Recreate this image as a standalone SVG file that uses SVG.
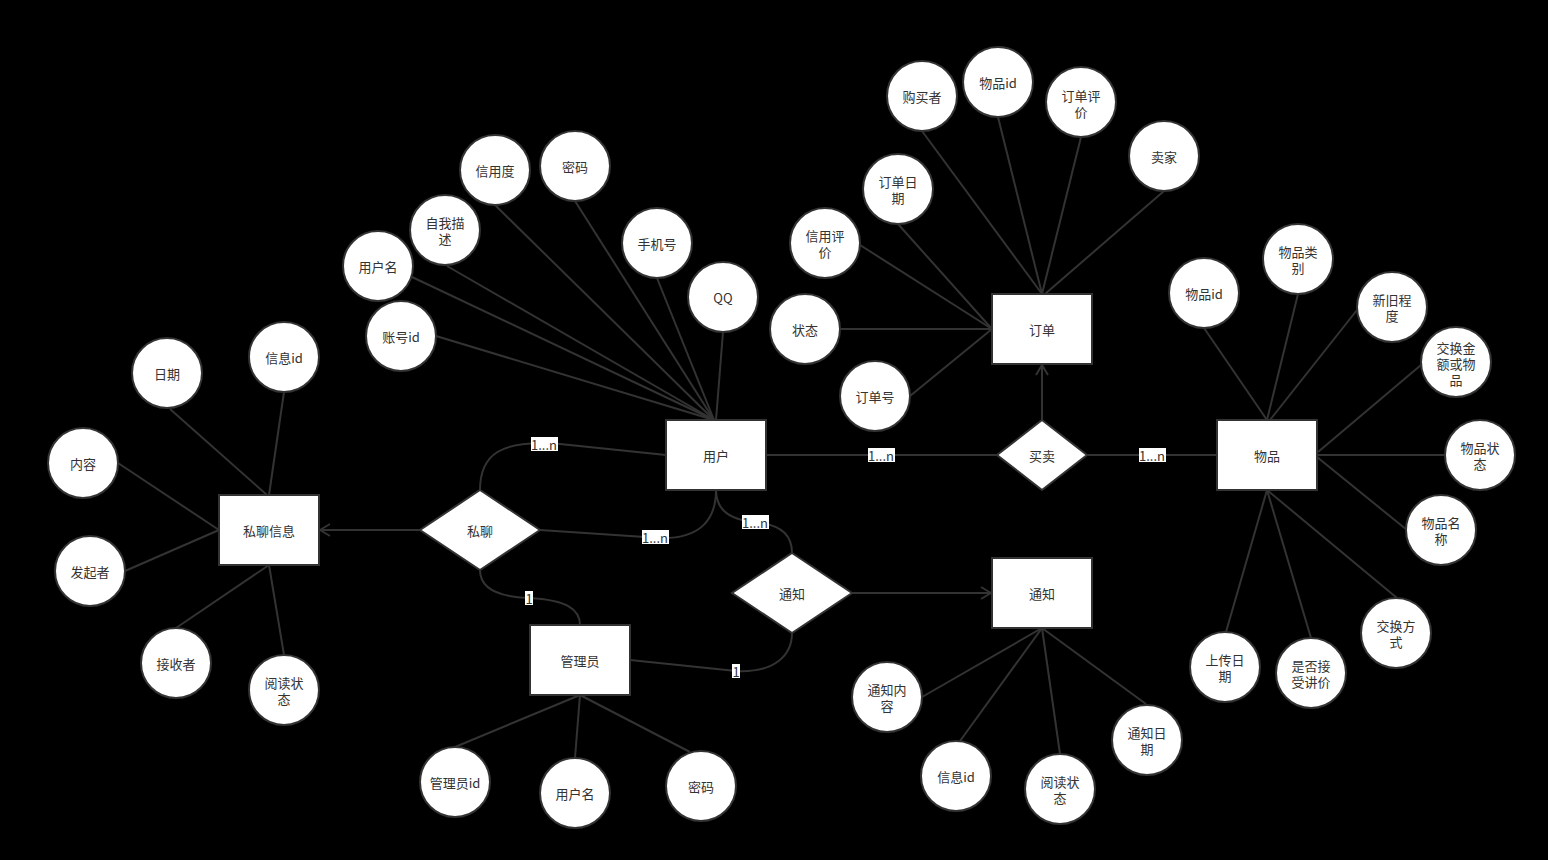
<svg xmlns="http://www.w3.org/2000/svg" width="1548" height="860" viewBox="0 0 1548 860">
<defs>
<style>
.bg{fill:#000}
.ent,.attr,.rel{fill:#fff;stroke:#333;stroke-width:2}
.ln{fill:none;stroke:#333;stroke-width:2}
text{font-family:"Noto Sans CJK SC","Liberation Sans",sans-serif;font-size:13px;fill:#333;text-anchor:middle;dominant-baseline:central}
.lbl{fill:#fff;stroke:none}
</style>
<marker id="arr" viewBox="0 0 12 14" refX="11" refY="7" markerWidth="12" markerHeight="14" markerUnits="userSpaceOnUse" orient="auto">
<path d="M1,1 L11,7 L1,13" fill="none" stroke="#333" stroke-width="2"/>
</marker>
</defs>
<rect class="bg" x="0" y="0" width="1548" height="860"/>

<g id="connectors">
<!-- user attributes -->
<path class="ln" d="M495,205 L714,420"/>
<path class="ln" d="M575,201 L714,420"/>
<path class="ln" d="M447,266 L714,420"/>
<path class="ln" d="M412,277 L714,420"/>
<path class="ln" d="M436,336 L714,420"/>
<path class="ln" d="M657,278 L714,420"/>
<path class="ln" d="M723,332 L716,420"/>
<!-- order attributes -->
<path class="ln" d="M922,131 L1042,294"/>
<path class="ln" d="M998,117 L1042,294"/>
<path class="ln" d="M1081,137 L1042,294"/>
<path class="ln" d="M1164,191 L1045,294"/>
<path class="ln" d="M898,224 L992,329"/>
<path class="ln" d="M860,245 L992,329"/>
<path class="ln" d="M840,329 L992,329"/>
<path class="ln" d="M910,396 L992,329"/>
<!-- item attributes -->
<path class="ln" d="M1204,328 L1267,420"/>
<path class="ln" d="M1298,294 L1267,420"/>
<path class="ln" d="M1357,310 L1270,420"/>
<path class="ln" d="M1421,365 L1318,452"/>
<path class="ln" d="M1445,455 L1317,455"/>
<path class="ln" d="M1407,530 L1317,457"/>
<path class="ln" d="M1397,598 L1267,490"/>
<path class="ln" d="M1226,632 L1267,490"/>
<path class="ln" d="M1311,638 L1267,490"/>
<!-- message attributes -->
<path class="ln" d="M170,409 L267,495"/>
<path class="ln" d="M284,392 L269,495"/>
<path class="ln" d="M118,463 L219,530"/>
<path class="ln" d="M125,571 L219,530"/>
<path class="ln" d="M176,628 L269,565"/>
<path class="ln" d="M284,655 L269,565"/>
<!-- admin attributes -->
<path class="ln" d="M580,695 L455,747"/>
<path class="ln" d="M580,695 L575,758"/>
<path class="ln" d="M580,695 L690,752"/>
<!-- notice attributes -->
<path class="ln" d="M1042,628 L922,697"/>
<path class="ln" d="M1042,628 L960,741"/>
<path class="ln" d="M1042,628 L1060,754"/>
<path class="ln" d="M1042,628 L1146,704"/>
<!-- relationships -->
<path class="ln" d="M766,455 L997,455"/>
<path class="ln" d="M1087,455 L1217,455"/>
<path class="ln" d="M1042,420 L1042,365" marker-end="url(#arr)"/>
<path class="ln" d="M420,530 L320,530" marker-end="url(#arr)"/>
<path class="ln" d="M852,593 L991,593" marker-end="url(#arr)"/>
<path class="ln" d="M666,455 L560,444 C500,439 480,455 480,490"/>
<path class="ln" d="M540,530 L660,538 C700,539 716,520 716,490"/>
<path class="ln" d="M716,490 C716,510 730,520 755,522 C785,525 792,538 792,553"/>
<path class="ln" d="M480,570 C480,590 500,597 529,598 C568,600 580,610 580,625"/>
<path class="ln" d="M630,660 L736,671 C775,673 792,655 792,633"/>
<!-- labels -->
<rect class="lbl" x="531" y="437" width="27" height="14"/><text x="544" y="444">1...n</text>
<rect class="lbl" x="642" y="530" width="27" height="14"/><text x="655" y="537">1...n</text>
<rect class="lbl" x="742" y="515" width="27" height="14"/><text x="755" y="522">1...n</text>
<rect class="lbl" x="868" y="448" width="27" height="14"/><text x="881" y="455">1...n</text>
<rect class="lbl" x="1139" y="448" width="27" height="14"/><text x="1152" y="455">1...n</text>
<rect class="lbl" x="525" y="591" width="8" height="14"/><text x="529" y="598">1</text>
<rect class="lbl" x="732" y="664" width="8" height="14"/><text x="736" y="671">1</text>
</g>

<!-- entities -->
<g id="user"><rect class="ent" x="666" y="420" width="100" height="70"/><text x="716" y="455">用户</text></g>
<g id="order"><rect class="ent" x="992" y="294" width="100" height="70"/><text x="1042" y="329">订单</text></g>
<g id="item"><rect class="ent" x="1217" y="420" width="100" height="70"/><text x="1267" y="455">物品</text></g>
<g id="message"><rect class="ent" x="219" y="495" width="100" height="70"/><text x="269" y="530">私聊信息</text></g>
<g id="admin"><rect class="ent" x="530" y="625" width="100" height="70"/><text x="580" y="660">管理员</text></g>
<g id="notice"><rect class="ent" x="992" y="558" width="100" height="70"/><text x="1042" y="593">通知</text></g>

<!-- relationships -->
<g id="trade"><polygon class="rel" points="1042,420 1087,455 1042,490 997,455"/><text x="1042" y="455">买卖</text></g>
<g id="chat"><polygon class="rel" points="480,490 540,530 480,570 420,530"/><text x="480" y="530">私聊</text></g>
<g id="notify"><polygon class="rel" points="792,553 852,593 792,633 732,593"/><text x="792" y="593">通知</text></g>

<!-- user attributes -->
<g id="u_credit"><circle class="attr" cx="495" cy="170" r="35"/><text x="495" y="170">信用度</text></g>
<g id="u_pwd"><circle class="attr" cx="575" cy="166" r="35"/><text x="575" y="166">密码</text></g>
<g id="u_desc"><circle class="attr" cx="445" cy="230" r="35"/><text x="445" y="222">自我描</text><text x="445" y="238">述</text></g>
<g id="u_name"><circle class="attr" cx="378" cy="266" r="35"/><text x="378" y="266">用户名</text></g>
<g id="u_phone"><circle class="attr" cx="657" cy="243" r="35"/><text x="657" y="243">手机号</text></g>
<g id="u_qq"><circle class="attr" cx="723" cy="297" r="35"/><text x="723" y="297">QQ</text></g>
<g id="u_id"><circle class="attr" cx="401" cy="336" r="35"/><text x="401" y="336">账号id</text></g>

<!-- order attributes -->
<g id="o_buyer"><circle class="attr" cx="922" cy="96" r="35"/><text x="922" y="96">购买者</text></g>
<g id="o_itemid"><circle class="attr" cx="998" cy="82" r="35"/><text x="998" y="82">物品id</text></g>
<g id="o_review"><circle class="attr" cx="1081" cy="102" r="35"/><text x="1081" y="95">订单评</text><text x="1081" y="111">价</text></g>
<g id="o_seller"><circle class="attr" cx="1164" cy="156" r="35"/><text x="1164" y="156">卖家</text></g>
<g id="o_date"><circle class="attr" cx="898" cy="189" r="35"/><text x="898" y="181">订单日</text><text x="898" y="197">期</text></g>
<g id="o_credit"><circle class="attr" cx="825" cy="243" r="35"/><text x="825" y="235">信用评</text><text x="825" y="251">价</text></g>
<g id="o_state"><circle class="attr" cx="805" cy="329" r="35"/><text x="805" y="329">状态</text></g>
<g id="o_no"><circle class="attr" cx="875" cy="396" r="35"/><text x="875" y="396">订单号</text></g>

<!-- item attributes -->
<g id="i_id"><circle class="attr" cx="1204" cy="293" r="35"/><text x="1204" y="293">物品id</text></g>
<g id="i_cat"><circle class="attr" cx="1298" cy="259" r="35"/><text x="1298" y="251">物品类</text><text x="1298" y="267">别</text></g>
<g id="i_new"><circle class="attr" cx="1392" cy="307" r="35"/><text x="1392" y="299">新旧程</text><text x="1392" y="315">度</text></g>
<g id="i_amount"><circle class="attr" cx="1456" cy="362" r="35"/><text x="1456" y="347">交换金</text><text x="1456" y="363">额或物</text><text x="1456" y="379">品</text></g>
<g id="i_state"><circle class="attr" cx="1480" cy="455" r="35"/><text x="1480" y="447">物品状</text><text x="1480" y="463">态</text></g>
<g id="i_name"><circle class="attr" cx="1441" cy="530" r="35"/><text x="1441" y="522">物品名</text><text x="1441" y="538">称</text></g>
<g id="i_way"><circle class="attr" cx="1396" cy="633" r="35"/><text x="1396" y="625">交换方</text><text x="1396" y="641">式</text></g>
<g id="i_upload"><circle class="attr" cx="1225" cy="667" r="35"/><text x="1225" y="659">上传日</text><text x="1225" y="675">期</text></g>
<g id="i_bargain"><circle class="attr" cx="1311" cy="673" r="35"/><text x="1311" y="665">是否接</text><text x="1311" y="681">受讲价</text></g>

<!-- message attributes -->
<g id="m_date"><circle class="attr" cx="167" cy="373" r="35"/><text x="167" y="373">日期</text></g>
<g id="m_id"><circle class="attr" cx="284" cy="357" r="35"/><text x="284" y="357">信息id</text></g>
<g id="m_content"><circle class="attr" cx="83" cy="463" r="35"/><text x="83" y="463">内容</text></g>
<g id="m_sender"><circle class="attr" cx="90" cy="571" r="35"/><text x="90" y="571">发起者</text></g>
<g id="m_receiver"><circle class="attr" cx="176" cy="663" r="35"/><text x="176" y="663">接收者</text></g>
<g id="m_read"><circle class="attr" cx="284" cy="690" r="35"/><text x="284" y="682">阅读状</text><text x="284" y="698">态</text></g>

<!-- admin attributes -->
<g id="a_id"><circle class="attr" cx="455" cy="782" r="35"/><text x="455" y="782">管理员id</text></g>
<g id="a_name"><circle class="attr" cx="575" cy="793" r="35"/><text x="575" y="793">用户名</text></g>
<g id="a_pwd"><circle class="attr" cx="701" cy="786" r="35"/><text x="701" y="786">密码</text></g>

<!-- notice attributes -->
<g id="n_content"><circle class="attr" cx="887" cy="697" r="35"/><text x="887" y="689">通知内</text><text x="887" y="705">容</text></g>
<g id="n_id"><circle class="attr" cx="956" cy="776" r="35"/><text x="956" y="776">信息id</text></g>
<g id="n_read"><circle class="attr" cx="1060" cy="789" r="35"/><text x="1060" y="781">阅读状</text><text x="1060" y="797">态</text></g>
<g id="n_date"><circle class="attr" cx="1147" cy="740" r="35"/><text x="1147" y="732">通知日</text><text x="1147" y="748">期</text></g>
</svg>
